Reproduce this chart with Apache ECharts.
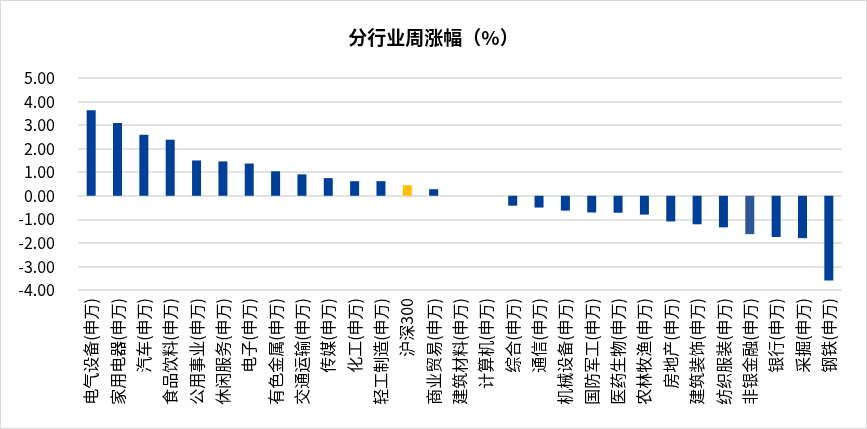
<!DOCTYPE html>
<html>
<head>
<meta charset="utf-8">
<script src="https://cdn.jsdelivr.net/npm/echarts@6/dist/echarts.min.js"></script>
<style>
html,body{margin:0;padding:0;background:#fff;}
#IndustryWeekBar{width:867px;height:429px;border:1px solid #d9d9d9;box-sizing:border-box;}
</style>
</head>
<body>
<div id="IndustryWeekBar"></div>
<script>
// 行业名称
var industryNames=['电气设备(申万)','家用电器(申万)','汽车(申万)','食品饮料(申万)','公用事业(申万)','休闲服务(申万)',
	'电子(申万)','有色金属(申万)','交通运输(申万)','传媒(申万)','化工(申万)','轻工制造(申万)','沪深300',
	'商业贸易(申万)','建筑材料(申万)','计算机(申万)','综合(申万)','通信(申万)','机械设备(申万)','国防军工(申万)',
	'医药生物(申万)','农林牧渔(申万)','房地产(申万)','建筑装饰(申万)','纺织服装(申万)','非银金融(申万)',
	'银行(申万)','采掘(申万)','钢铁(申万)'];
// 周涨幅(%)
var weekChange=[3.63,3.09,2.59,2.38,1.50,1.46,1.37,1.04,0.91,0.75,0.62,0.62,0.45,0.28,0,0,
	-0.42,-0.50,-0.63,-0.71,-0.72,-0.80,-1.09,-1.21,-1.34,-1.63,-1.75,-1.80,-3.60];
// 单独着色的类别
var highlightNames={'沪深300':'#ffc000','非银金融(申万)':'#2f5597'};
var yTicks={min:-4,max:5,interval:1};

var industry={
		init:function(){
			var chart=echarts.init(document.getElementById("IndustryWeekBar"));
			var seriesData=[];
			for(var i=0;i<industryNames.length;i++){
				var item={value:weekChange[i]};
				if(highlightNames[industryNames[i]]){
					item.itemStyle={color:highlightNames[industryNames[i]]};
				}
				seriesData.push(item);
			}
			var option={
					title:{
						text:'分行业周涨幅（%）',
						left:'center',
						top:22,
						textStyle:{
							fontFamily:'Noto Sans CJK SC',
							fontSize:19,
							fontWeight:'bold',
							color:'#000'
						}
					},
					grid:{left:77,right:24,top:77,bottom:138},
					xAxis:{
						type:'category',
						data:industryNames,
						axisLine:{show:false,onZero:false},
						axisTick:{show:false},
						axisLabel:{
							interval:0,
							rotate:90,
							margin:8,
							fontFamily:'Noto Sans CJK SC',
							fontSize:16,
							color:'#000'
						}
					},
					yAxis:{
						type:'value',
						min:yTicks.min,
						max:yTicks.max,
						interval:yTicks.interval,
						axisLine:{show:false},
						axisTick:{show:false},
						axisLabel:{
							margin:23,
							fontFamily:'Noto Sans CJK SC',
							fontSize:16,
							color:'#000',
							formatter:function(v){return v.toFixed(2);}
						},
						splitLine:{lineStyle:{color:'#d9d9d9',width:1.5}}
					},
					series:[{
						type:'bar',
						data:seriesData,
						barWidth:9,
						itemStyle:{color:'#003f98'}
					}]
			};
			chart.setOption(option);
		}
};
industry.init();
</script>
</body>
</html>
